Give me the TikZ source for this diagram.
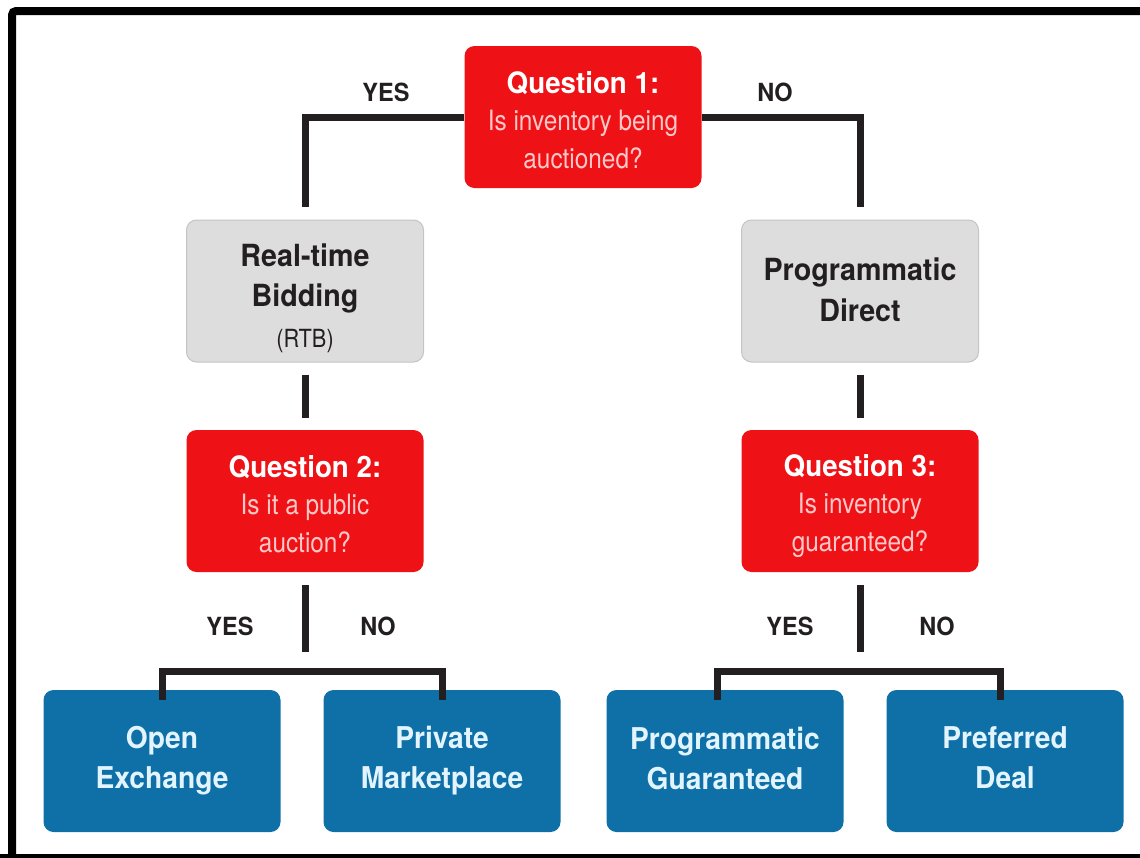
\documentclass[tikz,border=0pt]{standalone}
\usepackage{fontspec}
\setmainfont{TeX Gyre Heros}[FakeStretch=0.94]
\newfontfamily\condfont{TeX Gyre Heros}[FakeStretch=0.87]
\definecolor{qred}{RGB}{238,18,22}
\definecolor{tblue}{RGB}{14,112,167}
\definecolor{gfill}{RGB}{221,221,221}
\definecolor{gline}{RGB}{196,196,196}
\definecolor{pinktxt}{RGB}{255,200,200}
\definecolor{bluetxt}{RGB}{226,244,255}
\definecolor{ink}{RGB}{35,31,32}
\tikzset{
  box/.style={rectangle, rounded corners=10pt, minimum width=237pt, minimum height=142pt, inner sep=0pt},
  qbox/.style={box, fill=qred},
  gbox/.style={box, fill=gfill, draw=gline, line width=1pt},
  bbox/.style={box, fill=tblue},
  txt/.style={align=center, inner sep=0pt},
  qtxt/.style={txt, text=pinktxt, font=\condfont\fontsize{28}{37.5}\selectfont},
  gtxt/.style={txt, text=ink, font=\bfseries\fontsize{30.5}{40.5}\selectfont},
  btxt/.style={txt, text=bluetxt, font=\bfseries\fontsize{30}{40}\selectfont},
  conn/.style={draw=ink, line width=7pt},
  lbl/.style={text=ink, font=\bfseries\fontsize{25}{26}\selectfont, inner sep=0pt}
}
\newcommand{\qtitle}[1]{{\bfseries\fontspec{TeX Gyre Heros}[FakeStretch=0.94]\fontsize{29.5}{37.5}\selectfont\color{white}#1}}
\begin{document}
\begin{tikzpicture}[x=1pt, y=-1pt]
\useasboundingbox (0,0) rectangle (1140,857);
% frame
\draw[line width=8pt, rounded corners=4pt] (12,861) -- (12,11) -- (1160,11);
\draw[line width=8pt] (0,858) -- (1140,858);

% boxes
\node[qbox] (q1) at (583,117) {};
\node[gbox] (rtb) at (305,291) {};
\node[gbox] (pd) at (860,291) {};
\node[qbox] (q2) at (305,501) {};
\node[qbox] (q3) at (860,501) {};
\node[bbox] (oe) at (162,761) {};
\node[bbox] (pm) at (442,761) {};
\node[bbox] (pg) at (725,761) {};
\node[bbox] (pdl) at (1005,761) {};

% texts
\node[qtxt] (q1t) at ([yshift=-3pt]q1.center) {\qtitle{Question 1:}\\Is inventory being\\auctioned?};
\node[gtxt] (rtbt) at ([yshift=-7pt]rtb.center) {Real-time\\Bidding\\{\normalfont\condfont\fontsize{25}{30}\selectfont (RTB)}};
\node[gtxt] (pdt) at ([yshift=1pt]pd.center) {Programmatic\\Direct};
\node[qtxt] (q2t) at ([yshift=-3pt]q2.center) {\qtitle{Question 2:}\\Is it a public\\auction?};
\node[qtxt] (q3t) at ([yshift=-5pt]q3.center) {\qtitle{Question 3:}\\Is inventory\\guaranteed?};
\node[btxt] (oet) at (oe.center) {Open\\Exchange};
\node[btxt] (pmt) at (pm.center) {Private\\Marketplace};
\node[btxt] (pgt) at ([yshift=3pt]pg.center) {Programmatic\\Guaranteed};
\node[btxt] (pdlt) at ([yshift=3pt]pdl.center) {Preferred\\Deal};

% connectors
\draw[conn] (q1.west) -| ([yshift=13pt]rtb.north);
\draw[conn] (q1.east) -| ([yshift=13pt]pd.north);
\draw[conn] ([yshift=-12pt]rtb.south) -- ([yshift=12pt]q2.north);
\draw[conn] ([yshift=-12pt]pd.south) -- ([yshift=12pt]q3.north);

\coordinate (b2) at (305,652);
\coordinate (b3) at (860,652);
\draw[conn] ([yshift=-13pt]q2.south) -- (b2);
\draw[conn] ([yshift=-10pt]oe.north) -- ++(0,-28) -| ([yshift=-10pt]pm.north);
\draw[conn] ([yshift=-13pt]q3.south) -- (b3);
\draw[conn] ([yshift=-10pt,xshift=-8pt]pg.north) -- ++(0,-28) -| ([yshift=-10pt,xshift=-5pt]pdl.north);

% labels
\node[lbl] (l1) at (386,92) {YES};
\node[lbl] (l2) at (775,92) {NO};
\node[lbl] (l3) at (230,626) {YES};
\node[lbl] (l4) at (378,626) {NO};
\node[lbl] (l5) at (790,626) {YES};
\node[lbl] (l6) at (937,626) {NO};
\end{tikzpicture}
\end{document}
